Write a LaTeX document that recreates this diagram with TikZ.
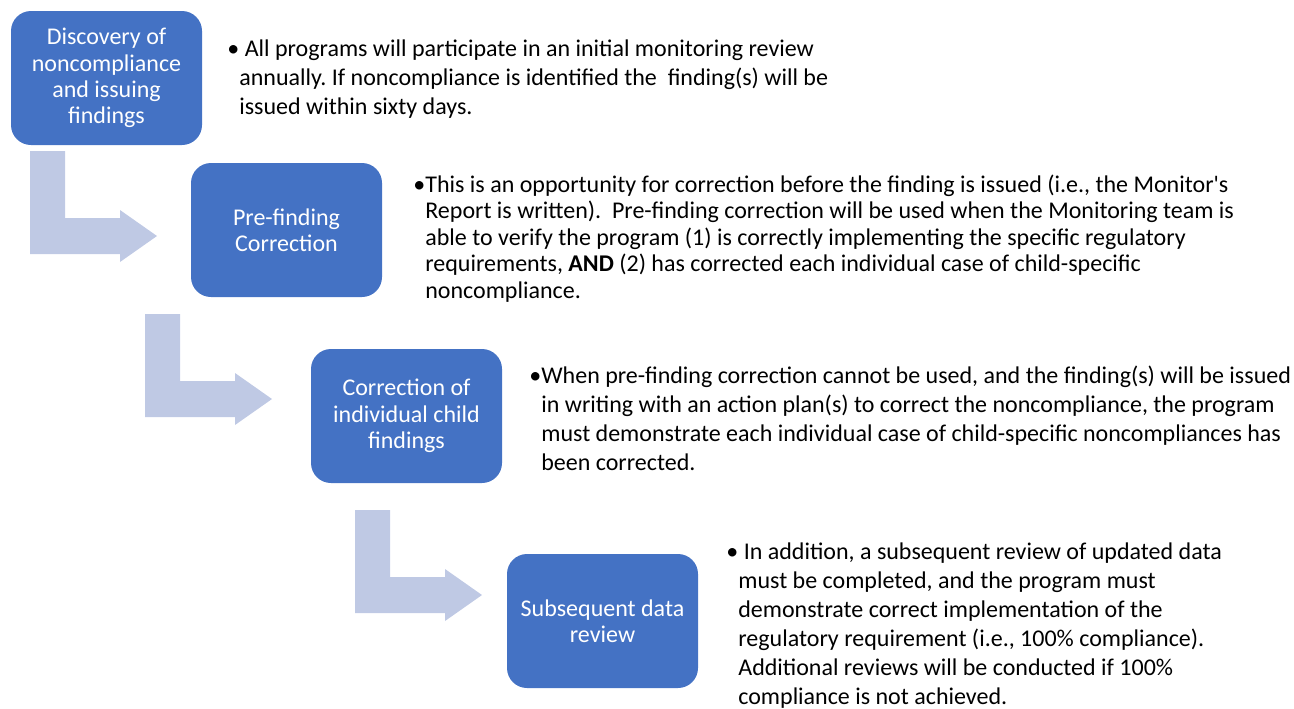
\documentclass[tikz,border=0pt]{standalone}
\usepackage{fontspec}
\setmainfont{Carlito}
\usepackage{xcolor}
\usetikzlibrary{positioning}
\definecolor{stepblue}{HTML}{4472C4}
\definecolor{arrowblue}{RGB}{191,201,228}
\frenchspacing

\begin{document}
\begin{tikzpicture}[
  x=0.5pt, y=-0.5pt,
  every node/.style={inner sep=0pt},
  stepbox/.style={fill=stepblue, rounded corners=10pt, minimum width=95.5pt, minimum height=67pt,
    align=center, text=white, font=\fontsize{12}{13.2}\selectfont},
  desctext/.style={anchor=north west, font=\fontsize{12}{14.5}\selectfont},
  bentarrow/.style={fill=arrowblue}
]
\useasboundingbox (0,0) rectangle (1294,708);

% Bent arrows between the steps
\foreach \ax/\ay in {30/151, 145/314, 355/510} {
  \fill[bentarrow, shift={(\ax,\ay)}] (0,0) -- (35,0) -- (35,67) -- (90,67) -- (90,59)
    -- (127,85) -- (90,111) -- (90,103) -- (0,103) -- cycle;
}

% Steps
\node[stepbox] (discovery) at (106.5,78) {Discovery of\\noncompliance\\and issuing\\findings};
\node[stepbox] (prefinding) at (286.5,230) {Pre-finding\\Correction};
\node[stepbox] (childfix) at (406.5,416) {Correction of\\individual child\\findings};
\node[stepbox] (subreview) at (602.5,621) {Subsequent data\\review};

% Descriptions
\node[desctext] (desc1) at (227,36)
  {\begin{tabular}{@{}l@{}l@{}}
   •&\ All programs will participate in an initial monitoring review\\
   &annually. If noncompliance is identified the\ \ finding(s) will be\\
   &issued within sixty days.
   \end{tabular}};
\node[desctext, font=\fontsize{12}{13.25}\selectfont] (desc2) at (413,173.5)
  {\begin{tabular}{@{}l@{}l@{}}
   •&This is an opportunity for correction before the finding is issued (i.e., the Monitor\textquotesingle s\\
   &Report is written).\ \ Pre-finding correction will be used when the Monitoring team is\\
   &able to verify the program (1) is correctly implementing the specific regulatory\\
   &requirements, \textbf{AND} (2) has corrected each individual case of child-specific\\
   &noncompliance.
   \end{tabular}};
\node[desctext] (desc3) at (529,362.5)
  {\begin{tabular}{@{}l@{}l@{}}
   •&When pre-finding correction cannot be used, and the finding(s) will be issued\\
   &in writing with an action plan(s) to correct the noncompliance, the program\\
   &must demonstrate each individual case of child-specific noncompliances has\\
   &been corrected.
   \end{tabular}};
\node[desctext] (desc4) at (726,539)
  {\begin{tabular}{@{}l@{}l@{}}
   •&\ In addition, a subsequent review of updated data\\
   &must be completed, and the program must\\
   &demonstrate correct implementation of the\\
   &regulatory requirement (i.e., 100\% compliance).\\
   &Additional reviews will be conducted if 100\%\\
   &compliance is not achieved.
   \end{tabular}};

\end{tikzpicture}
\end{document}
